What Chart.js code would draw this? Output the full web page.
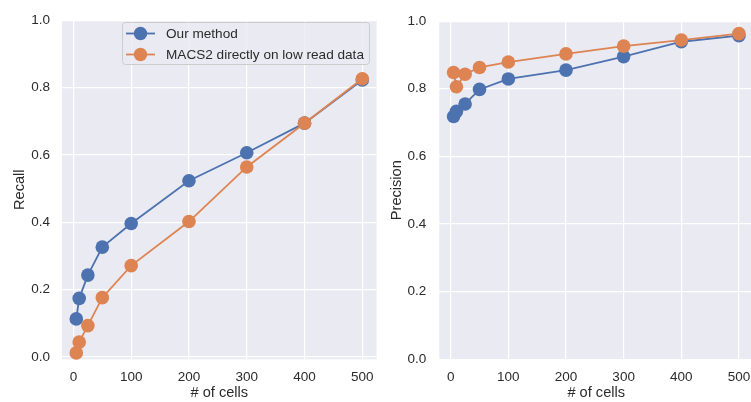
<!DOCTYPE html>
<html>
<head>
<meta charset="utf-8">
<script src="https://cdn.jsdelivr.net/npm/chart.js@4.4.1/dist/chart.umd.min.js"></script>
<style>
html, body { margin: 0; padding: 0; background: #fff; overflow: hidden; width: 751px; height: 402px; }
canvas { position: absolute; top: 0; }
#recall { left: 0; }
#precision { left: 380px; }
</style>
</head>
<body>
<canvas id="recall" width="385" height="402"></canvas>
<canvas id="precision" width="380" height="402"></canvas>
<script>
const cells = [5, 10, 25, 50, 100, 200, 300, 400, 500]
const recallOurs = [0.113, 0.174, 0.243, 0.326, 0.396, 0.523, 0.606, 0.694, 0.822]
const recallMacs = [0.012, 0.044, 0.093, 0.176, 0.271, 0.402, 0.564, 0.694, 0.826]
const precisionOurs = [0.718, 0.733, 0.755, 0.798, 0.829, 0.855, 0.895, 0.939, 0.957]
const precisionMacs = [0.848, 0.806, 0.843, 0.863, 0.879, 0.903, 0.926, 0.944, 0.963]
const seriesNames = ['Our method', 'MACS2 directly on low read data']
const xTicks = [0, 100, 200, 300, 400, 500]
const yTicks = [0.0, 0.2, 0.4, 0.6, 0.8, 1.0]

const blue = '#4C72B0'
const orange = '#DD8452'
const textColor = '#2b2b2b'
const family = '"Liberation Sans", Arial, sans-serif'

const plotBackground = {
  id: 'plotBackground',
  beforeDraw(chart) {
    const { ctx, chartArea: a } = chart
    ctx.save()
    ctx.fillStyle = '#EAEAF2'
    ctx.fillRect(a.left, a.top, a.right - a.left, a.bottom - a.top)
    ctx.restore()
  }
}

// seaborn style legend: line with a marker on it, in a rounded frame
const lineLegend = {
  id: 'lineLegend',
  afterDraw(chart) {
    const ctx = chart.ctx
    const x = 122.5, y = 22.5, w = 247, h = 42
    ctx.save()
    ctx.beginPath()
    ctx.roundRect(x, y, w, h, 3)
    ctx.fillStyle = 'rgba(234,234,242,0.8)'
    ctx.fill()
    ctx.strokeStyle = '#cccccc'
    ctx.lineWidth = 1
    ctx.stroke()
    chart.data.datasets.forEach((ds, i) => {
      const cy = 33.5 + i * 21
      ctx.strokeStyle = ds.borderColor
      ctx.lineWidth = 1.8
      ctx.beginPath()
      ctx.moveTo(126, cy)
      ctx.lineTo(155, cy)
      ctx.stroke()
      ctx.fillStyle = ds.borderColor
      ctx.beginPath()
      ctx.arc(140.5, cy, 6.7, 0, Math.PI * 2)
      ctx.fill()
      ctx.fillStyle = textColor
      ctx.font = '13.6px ' + family
      ctx.textBaseline = 'middle'
      ctx.fillText(ds.label, 166, cy + 0.5)
    })
    ctx.restore()
  }
}

function series(label, values, color, order) {
  return {
    label: label,
    data: cells.map((c, i) => ({ x: c, y: values[i] })),
    borderColor: color,
    backgroundColor: color,
    borderWidth: 1.8,
    pointRadius: 6.8,
    pointHoverRadius: 6.8,
    pointBorderWidth: 0,
    tension: 0,
    clip: false,
    order: order
  }
}

function makeScales(yTitle, yMin, yWidth, yTitlePad, yTickPad) {
  return {
    x: {
      type: 'linear',
      min: -19.75,
      max: 524.75,
      afterBuildTicks: s => { s.ticks = xTicks.map(v => ({ value: v })) },
      afterFit: s => { s.height = 42.7 },
      grid: { color: '#ffffff', lineWidth: 1.2, drawTicks: false },
      border: { display: false },
      ticks: { padding: 9.5, color: textColor, autoSkip: false, maxRotation: 0,
        font: { family: family, size: 13.5 }, callback: v => String(v) },
      title: { display: true, text: '# of cells', color: textColor,
        font: { family: family, size: 14.6 }, padding: { top: 0, bottom: 0.5 } }
    },
    y: {
      type: 'linear',
      min: yMin,
      max: 1.0,
      afterBuildTicks: s => { s.ticks = yTicks.map(v => ({ value: v })) },
      afterFit: s => { s.width = yWidth },
      grid: { color: '#ffffff', lineWidth: 1.2, drawTicks: false },
      border: { display: false },
      ticks: { padding: yTickPad, color: textColor, autoSkip: false,
        font: { family: family, size: 13.5 }, callback: v => v.toFixed(1) },
      title: { display: true, text: yTitle, color: textColor,
        font: { family: family, size: 14.6 }, padding: { top: yTitlePad, bottom: 0 } }
    }
  }
}

Chart.defaults.animation = false

new Chart(document.getElementById('recall'), {
  type: 'line',
  data: {
    datasets: [
      series(seriesNames[0], recallOurs, blue, 1),
      series(seriesNames[1], recallMacs, orange, 0)
    ]
  },
  options: {
    responsive: false,
    layout: { padding: { top: 17, right: 8.4, left: 0, bottom: 0 } },
    scales: makeScales('Recall', -0.007, 62, 10.8, 12),
    plugins: { legend: { display: false }, tooltip: { enabled: false } }
  },
  plugins: [plotBackground, lineLegend]
})

new Chart(document.getElementById('precision'), {
  type: 'line',
  data: {
    datasets: [
      series(seriesNames[0], precisionOurs, blue, 1),
      series(seriesNames[1], precisionMacs, orange, 0)
    ]
  },
  options: {
    responsive: false,
    layout: { padding: { top: 17.8, right: 6.2, left: 0, bottom: 0 } },
    scales: makeScales('Precision', 0, 59.3, 7.8, 13),
    plugins: { legend: { display: false }, tooltip: { enabled: false } }
  },
  plugins: [plotBackground]
})
</script>
</body>
</html>
